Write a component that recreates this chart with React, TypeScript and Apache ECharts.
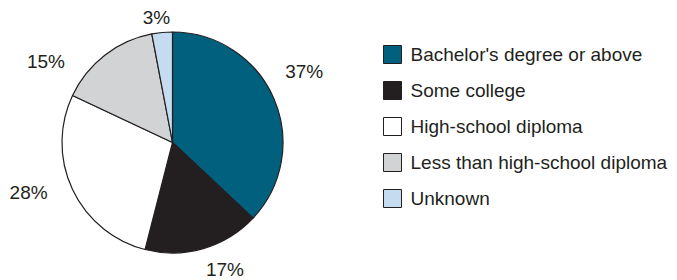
import React, { useEffect, useRef } from "react";
import * as echarts from "echarts";

const categories = [
  "Bachelor's degree or above",
  "Some college",
  "High-school diploma",
  "Less than high-school diploma",
  "Unknown",
];
const shares = [37, 17, 28, 15, 3];
const colors = ["#00607e", "#231f20", "#ffffff", "#d1d3d4", "#c5dbf0"];
// small hand nudges of the percentage labels (px), as in the original layout
const labelNudgeX = [5, 14, -19, -42, -3];
const labelNudgeY = [-16, -6, -9, 28, 12];

export default function App() {
  const ref = useRef<HTMLDivElement>(null);
  useEffect(() => {
    if (!ref.current) return;
    const chart = echarts.init(ref.current, null, { renderer: "svg" });
    const data = categories.map((name, i) => ({
      name,
      value: shares[i],
      itemStyle: { color: colors[i] },
    }));
    chart.setOption({
      animation: false,
      backgroundColor: "#ffffff",
      textStyle: { fontFamily: "Liberation Sans, Arial, sans-serif" },
      legend: {
        orient: "vertical",
        left: 383,
        top: 45,
        padding: 0,
        itemWidth: 18,
        itemHeight: 18,
        itemGap: 17,
        icon: "rect",
        data: categories,
        selectedMode: false,
        itemStyle: { borderColor: "#231f20", borderWidth: 1 },
        textStyle: {
          fontSize: 19,
          lineHeight: 18,
          color: "#231f20",
          padding: [0, 0, 0, 4],
        },
      },
      series: [
        {
          type: "pie",
          center: [172.5, 142.5],
          radius: [0, 110.5],
          startAngle: 90,
          clockwise: true,
          silent: true,
          itemStyle: { borderColor: "#231f20", borderWidth: 1.2 },
          label: { show: false },
          labelLine: { show: false },
          data,
        },
        {
          type: "pie",
          center: [172.5, 142.5],
          radius: [134, 136],
          startAngle: 90,
          clockwise: true,
          silent: true,
          itemStyle: { color: "rgba(0,0,0,0)", borderWidth: 0 },
          label: {
            show: true,
            position: "inside",
            formatter: "{c}%",
            fontSize: 19,
            lineHeight: 19,
            color: "#231f20",
            fontFamily: "Liberation Sans, Arial, sans-serif",
          },
          labelLine: { show: false },
          labelLayout: (p: any) => ({
            dx: labelNudgeX[p.dataIndex],
            dy: labelNudgeY[p.dataIndex],
          }),
          legendHoverLink: false,
          data: categories.map((name, i) => ({ name: name + " ", value: shares[i] })),
        },
      ],
    });
    return () => chart.dispose();
  }, []);
  return (
    <div
      ref={ref}
      style={{ position: "fixed", left: 0, top: 0, width: 677, height: 280 }}
    />
  );
}
